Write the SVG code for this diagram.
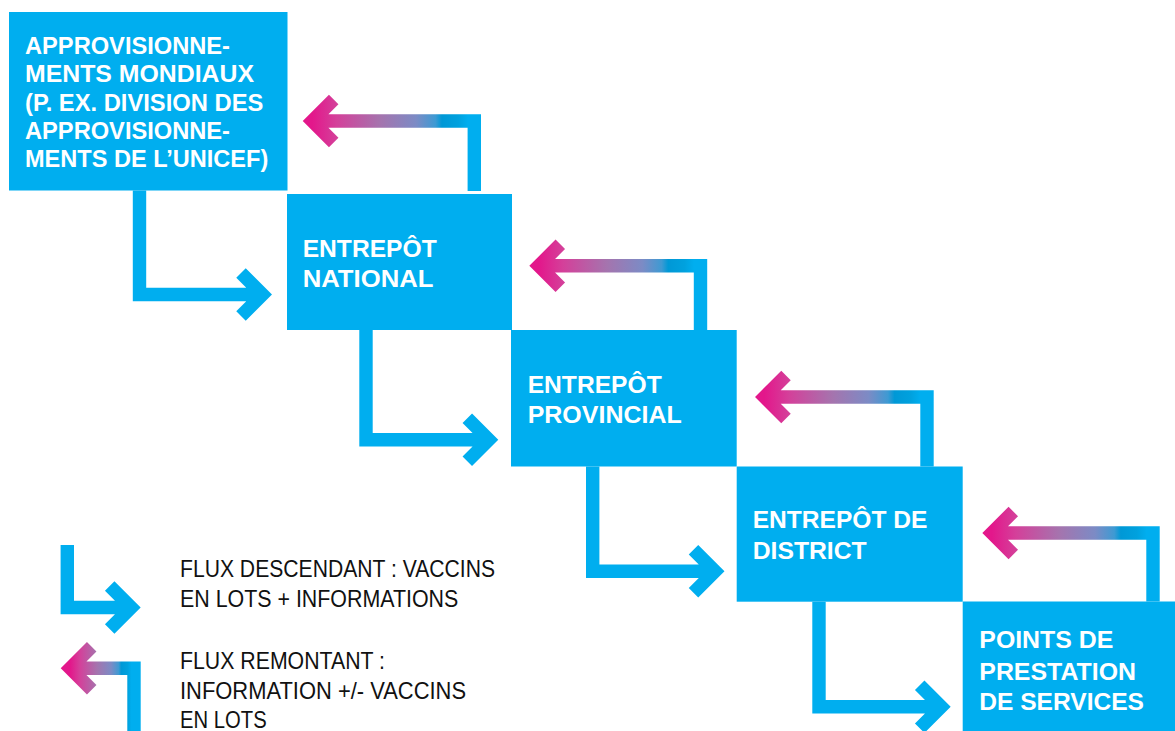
<svg xmlns="http://www.w3.org/2000/svg" width="1175" height="731" viewBox="0 0 1175 731">
  <style>
    .box { fill: #00AEEF; }
    .lbl { font-family: "Liberation Sans", Arial, sans-serif; font-weight: bold; fill: #FFFFFF; font-size: 24px; }
    .lbl1 { font-size: 23.5px; }
    .down { fill: none; stroke: #00AEEF; stroke-width: 13.4; stroke-linejoin: miter; stroke-linecap: butt; }
    .up { fill: none; stroke: url(#upGrad); stroke-width: 13.4; stroke-linejoin: miter; stroke-linecap: butt; }
    .leg { font-family: "Liberation Sans", Arial, sans-serif; fill: #111111; font-size: 24px; }
  </style>
  <defs>
    <!-- upward flow: magenta at the arrow tip fading to cyan at the elbow -->
    <linearGradient id="upGrad" x1="0" y1="0" x2="1" y2="0">
      <stop offset="0" stop-color="#E3178B"/>
      <stop offset="0.15" stop-color="#D4409A"/>
      <stop offset="0.42" stop-color="#A574AE"/>
      <stop offset="0.64" stop-color="#7C8BC5"/>
      <stop offset="0.76" stop-color="#3E9AD3"/>
      <stop offset="0.8" stop-color="#0098D6"/>
      <stop offset="0.9" stop-color="#00A1DE"/>
      <stop offset="0.96" stop-color="#00AEEF"/>
      <stop offset="1" stop-color="#00AEEF"/>
    </linearGradient>
  </defs>

  <rect width="1175" height="731" fill="#FFFFFF"/>

  <!-- connectors -->
  <g id="connectors">
    <!-- downward flows -->
    <path class="down" d="M139.5,190.5 V294.5 H262.5 M241,273 L262.5,294.5 L241,316"/>
    <path class="down" d="M366,330 V439.7 H488.8 M467.3,418.2 L488.8,439.7 L467.3,461.2"/>
    <path class="down" d="M592.7,466.5 V571.3 H715 M693.5,549.8 L715,571.3 L693.5,592.8"/>
    <path class="down" d="M819,601.7 V706.7 H941.2 M919.7,685.2 L941.2,706.7 L919.7,728.2"/>
    <!-- upward flows -->
    <path class="up" d="M474.3,191 V121 H312.2 M333.7,99.5 L312.2,121 L333.7,142.5"/>
    <path class="up" d="M700.5,330 V265.8 H538.8 M560.3,244.3 L538.8,265.8 L560.3,287.3"/>
    <path class="up" d="M927,466.5 V397 H764.5 M786,375.5 L764.5,397 L786,418.5"/>
    <path class="up" d="M1153,601.5 V533 H991.8 M1013.3,511.5 L991.8,533 L1013.3,554.5"/>
  </g>

  <!-- supply chain levels -->
  <g id="node-global">
    <rect class="box" x="9" y="12" width="278.5" height="178.5"/>
    <text class="lbl lbl1" x="25" y="54" textLength="205" lengthAdjust="spacingAndGlyphs">APPROVISIONNE-</text>
    <text class="lbl lbl1" x="25" y="82.3" textLength="229" lengthAdjust="spacingAndGlyphs">MENTS MONDIAUX</text>
    <text class="lbl lbl1" x="25" y="110.7" textLength="238.3" lengthAdjust="spacingAndGlyphs">(P. EX. DIVISION DES</text>
    <text class="lbl lbl1" x="25" y="139" textLength="205" lengthAdjust="spacingAndGlyphs">APPROVISIONNE-</text>
    <text class="lbl lbl1" x="25" y="167.3" textLength="243.3" lengthAdjust="spacingAndGlyphs">MENTS DE L’UNICEF)</text>
  </g>

  <g id="node-national">
    <rect class="box" x="287" y="194" width="225" height="136"/>
    <text class="lbl" x="302.7" y="256.7" textLength="134" lengthAdjust="spacingAndGlyphs">ENTREPÔT</text>
    <text class="lbl" x="302.7" y="287.3" textLength="130.7" lengthAdjust="spacingAndGlyphs">NATIONAL</text>
  </g>

  <g id="node-provincial">
    <rect class="box" x="511" y="330" width="225.7" height="136.5"/>
    <text class="lbl" x="527.7" y="392.7" textLength="134" lengthAdjust="spacingAndGlyphs">ENTREPÔT</text>
    <text class="lbl" x="527.7" y="423.3" textLength="154" lengthAdjust="spacingAndGlyphs">PROVINCIAL</text>
  </g>

  <g id="node-district">
    <rect class="box" x="736.7" y="466.5" width="226" height="135.2"/>
    <text class="lbl" x="752.7" y="528.3" textLength="174.7" lengthAdjust="spacingAndGlyphs">ENTREPÔT DE</text>
    <text class="lbl" x="752.7" y="559.3" textLength="114" lengthAdjust="spacingAndGlyphs">DISTRICT</text>
  </g>

  <g id="node-points">
    <rect class="box" x="962.7" y="601.5" width="212.3" height="129.5"/>
    <text class="lbl" x="979.3" y="648.3" textLength="134" lengthAdjust="spacingAndGlyphs">POINTS DE</text>
    <text class="lbl" x="979.3" y="680" textLength="156.7" lengthAdjust="spacingAndGlyphs">PRESTATION</text>
    <text class="lbl" x="979.3" y="710" textLength="164.7" lengthAdjust="spacingAndGlyphs">DE SERVICES</text>
  </g>

  <!-- legend -->
  <g id="legend">
    <path class="down" d="M67.3,545 V607.5 H131.2 M109.7,586 L131.2,607.5 L109.7,629"/>
    <path class="up" d="M134,731 V668.3 H70.2 M91.7,646.8 L70.2,668.3 L91.7,689.8"/>
    <text class="leg" x="180" y="576.7" textLength="315" lengthAdjust="spacingAndGlyphs">FLUX DESCENDANT : VACCINS</text>
    <text class="leg" x="180" y="607.3" textLength="278.3" lengthAdjust="spacingAndGlyphs">EN LOTS + INFORMATIONS</text>
    <text class="leg" x="180" y="669.3" textLength="205" lengthAdjust="spacingAndGlyphs">FLUX REMONTANT :</text>
    <text class="leg" x="180" y="699" textLength="286" lengthAdjust="spacingAndGlyphs">INFORMATION +/- VACCINS</text>
    <text class="leg" x="180" y="728.3" textLength="86.7" lengthAdjust="spacingAndGlyphs">EN LOTS</text>
  </g>
</svg>
